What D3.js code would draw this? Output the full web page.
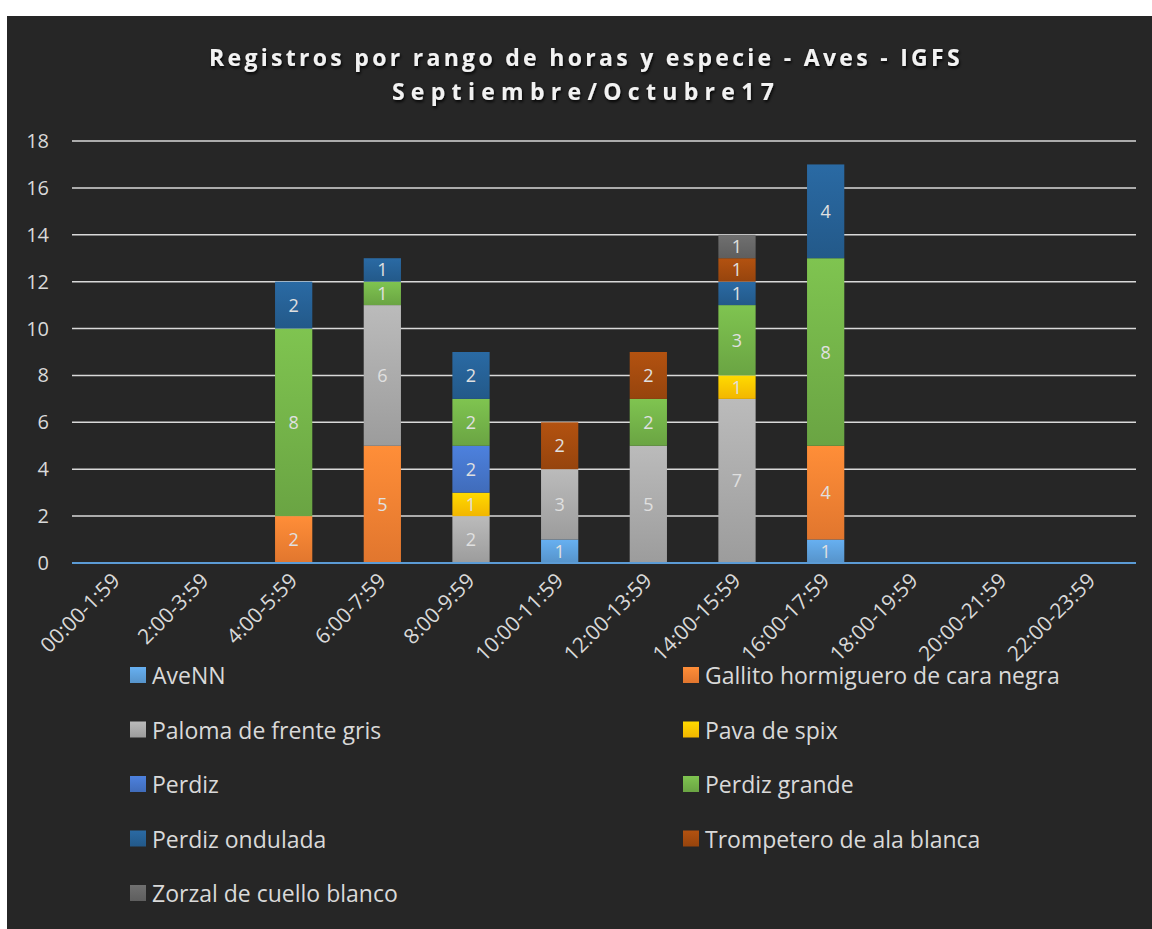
<!DOCTYPE html>
<html>
<head>
<meta charset="utf-8">
<script src="https://cdn.jsdelivr.net/npm/d3@7"></script>
<style>
  body { margin: 0; background: #fff; }
  svg { display: block; }
</style>
</head>
<body>
<svg id="chart" width="1152" height="929"></svg>
<script>
const categories = ["00:00-1:59", "2:00-3:59", "4:00-5:59", "6:00-7:59", "8:00-9:59",
  "10:00-11:59", "12:00-13:59", "14:00-15:59", "16:00-17:59", "18:00-19:59",
  "20:00-21:59", "22:00-23:59"];

const species = ["AveNN", "Gallito hormiguero de cara negra", "Paloma de frente gris",
  "Pava de spix", "Perdiz", "Perdiz grande", "Perdiz ondulada",
  "Trompetero de ala blanca", "Zorzal de cuello blanco"];

const aveNN      = [0, 0, 0, 0, 0, 1, 0, 0, 1, 0, 0, 0];
const gallito    = [0, 0, 2, 5, 0, 0, 0, 0, 4, 0, 0, 0];
const paloma     = [0, 0, 0, 6, 2, 3, 5, 7, 0, 0, 0, 0];
const pava       = [0, 0, 0, 0, 1, 0, 0, 1, 0, 0, 0, 0];
const perdiz     = [0, 0, 0, 0, 2, 0, 0, 0, 0, 0, 0, 0];
const perdizGr   = [0, 0, 8, 1, 2, 0, 2, 3, 8, 0, 0, 0];
const perdizOnd  = [0, 0, 2, 1, 2, 0, 0, 1, 4, 0, 0, 0];
const trompetero = [0, 0, 0, 0, 0, 2, 2, 1, 0, 0, 0, 0];
const zorzal     = [0, 0, 0, 0, 0, 0, 0, 1, 0, 0, 0, 0];

const yTicks = [0, 2, 4, 6, 8, 10, 12, 14, 16, 18];

const seriesValues = [aveNN, gallito, paloma, pava, perdiz, perdizGr, perdizOnd, trompetero, zorzal];
const colors = ["#5B9BD5", "#ED7D31", "#A5A5A5", "#FFC000", "#4472C4", "#70AD47", "#255E91", "#9E480E", "#636363"];

const rows = categories.map((c, i) => {
  const r = { cat: c };
  species.forEach((s, j) => (r[s] = seriesValues[j][i]));
  return r;
});

const svg = d3.select("#chart");
const font = "'Open Sans', 'Noto Sans', sans-serif";

// background panel
svg.append("rect").attr("x", 7).attr("y", 16).attr("width", 1145).attr("height", 913).attr("fill", "#262626");

const defs = svg.append("defs");
const shadow = defs.append("filter").attr("id", "shadow").attr("x", "-10%").attr("y", "-30%").attr("width", "120%").attr("height", "160%");
shadow.append("feDropShadow").attr("dx", 1).attr("dy", 2).attr("stdDeviation", 1.5).attr("flood-color", "#000").attr("flood-opacity", 0.9);

colors.forEach((c, i) => {
  const g = defs.append("linearGradient").attr("id", "grad" + i).attr("x1", 0).attr("y1", 0).attr("x2", 0).attr("y2", 1);
  g.append("stop").attr("offset", "0%").attr("stop-color", d3.color(c).brighter(0.35));
  g.append("stop").attr("offset", "100%").attr("stop-color", d3.color(c).darker(0.15));
});

// title
const title = svg.append("g").attr("filter", "url(#shadow)")
  .attr("fill", "#f2f2f2").attr("font-family", font).attr("font-weight", "bold").attr("text-anchor", "middle");
title.append("text").attr("x", 586).attr("y", 66).attr("font-size", 23).attr("letter-spacing", 3.3)
  .text("Registros por rango de horas y especie - Aves - IGFS");
title.append("text").attr("x", 586).attr("y", 100).attr("font-size", 23).attr("letter-spacing", 6.3)
  .text("Septiembre/Octubre17");

const x = d3.scaleBand().domain(categories).range([72, 1136]).paddingInner(0.58).paddingOuter(0.29);
const y = d3.scaleLinear().domain([0, 18]).range([563, 141]);

// grid
svg.append("g").selectAll("line").data(yTicks.filter((d) => d > 0)).join("line")
  .attr("x1", 72).attr("x2", 1136)
  .attr("y1", (d) => y(d)).attr("y2", (d) => y(d))
  .attr("stroke", "#d9d9d9").attr("stroke-width", 1.5);

// y labels
svg.append("g").selectAll("text").data(yTicks).join("text")
  .attr("x", 49).attr("y", (d) => y(d) + 7)
  .attr("text-anchor", "end").attr("font-family", font).attr("font-size", 20)
  .attr("fill", "#d9d9d9").text((d) => d);

// bars
const stacked = d3.stack().keys(species)(rows);
const layer = svg.append("g").selectAll("g").data(stacked).join("g")
  .attr("fill", (d, i) => `url(#grad${i})`);
layer.selectAll("rect").data((d) => d.filter((p) => p[1] > p[0])).join("rect")
  .attr("x", (d) => x(d.data.cat)).attr("width", x.bandwidth())
  .attr("y", (d) => y(d[1])).attr("height", (d) => y(d[0]) - y(d[1]));

// labels
const labels = svg.append("g").attr("font-family", font).attr("font-size", 18)
  .attr("fill", "#e0e0e0").attr("text-anchor", "middle");
stacked.forEach((s) => {
  labels.selectAll(null).data(s.filter((p) => p[1] > p[0])).join("text")
    .attr("x", (d) => x(d.data.cat) + x.bandwidth() / 2)
    .attr("y", (d) => (y(d[0]) + y(d[1])) / 2 + 6.5)
    .text((d) => d[1] - d[0]);
});

// baseline
svg.append("line").attr("x1", 72).attr("x2", 1136).attr("y1", 563).attr("y2", 563)
  .attr("stroke", "#5B9BD5").attr("stroke-width", 2);

// x labels
svg.append("g").selectAll("text").data(categories).join("text")
  .attr("transform", (d) => `translate(${x(d) + x.bandwidth() / 2 + 5},${582}) rotate(-45)`)
  .attr("text-anchor", "end").attr("font-family", font).attr("font-size", 21)
  .attr("fill", "#d9d9d9").text((d) => d);

// legend
const legend = svg.append("g").attr("font-family", font).attr("font-size", 23).attr("fill", "#d9d9d9");
const item = legend.selectAll("g").data(species).join("g")
  .attr("transform", (d, i) => `translate(${i % 2 === 0 ? 130 : 683},${676 + Math.floor(i / 2) * 54.5})`);
item.append("rect").attr("x", 0).attr("y", -9).attr("width", 16).attr("height", 16)
  .attr("fill", (d, i) => `url(#grad${i})`);
item.append("text").attr("x", 22).attr("y", 8).text((d) => d);
</script>
</body>
</html>
